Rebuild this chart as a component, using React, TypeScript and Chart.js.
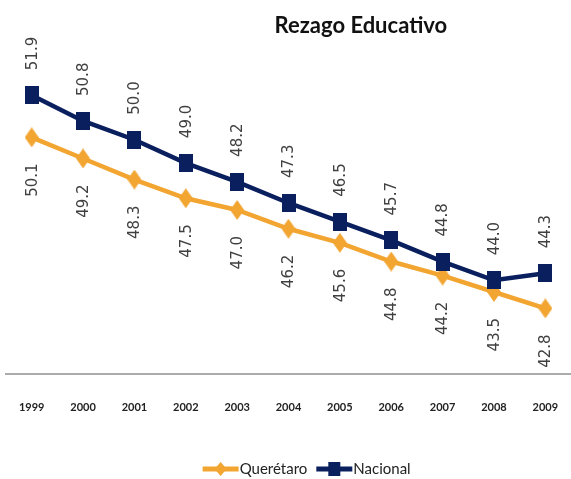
import React, { useEffect, useRef } from "react";
import { Chart, registerables } from "chart.js";

Chart.register(...registerables);

const years = ["1999", "2000", "2001", "2002", "2003", "2004", "2005", "2006", "2007", "2008", "2009"];
const queretaro = [50.1, 49.2, 48.3, 47.5, 47.0, 46.2, 45.6, 44.8, 44.2, 43.5, 42.8];
const nacional = [51.9, 50.8, 50.0, 49.0, 48.2, 47.3, 46.5, 45.7, 44.8, 44.0, 44.3];
const seriesNames = ["Querétaro", "Nacional"];
const chartTitle = "Rezago Educativo";

const NAVY = "#0A1F5E";
const ORANGE = "#F2A531";

function makeMarker(kind: string, w: number, h: number, color: string) {
  const c = document.createElement("canvas");
  c.width = w;
  c.height = h;
  const ctx = c.getContext("2d")!;
  ctx.fillStyle = color;
  if (kind === "square") {
    ctx.fillRect(0, 0, w, h);
  } else {
    ctx.beginPath();
    ctx.moveTo(w / 2, 0);
    ctx.lineTo(w, h / 2);
    ctx.lineTo(w / 2, h);
    ctx.lineTo(0, h / 2);
    ctx.closePath();
    ctx.fill();
  }
  return c;
}

export default function App() {
  const ref = useRef<HTMLCanvasElement | null>(null);

  useEffect(() => {
    if (!ref.current) return;
    const square = makeMarker("square", 14, 18, NAVY);
    const diamond = makeMarker("diamond", 14, 20, ORANGE);

    const overlay = {
      id: "overlay",
      afterDatasetsDraw(chart: any) {
        const ctx = chart.ctx;
        chart.data.datasets.forEach((ds: any, i: number) => {
          const meta = chart.getDatasetMeta(i);
          meta.data.forEach((pt: any, j: number) => {
            const v = ds.data[j] as number;
            ctx.save();
            ctx.translate(pt.x + 1, pt.y);
            ctx.rotate(-Math.PI / 2);
            ctx.font = '15px "DejaVu Sans"';
            ctx.fillStyle = "#404040";
            ctx.textBaseline = "middle";
            if (ds.labelPos === "above") {
              ctx.textAlign = "left";
              ctx.fillText(v.toFixed(1), 25, 0);
            } else {
              ctx.textAlign = "right";
              ctx.fillText(v.toFixed(1), -26, 0);
            }
            ctx.restore();
          });
        });
      },
      afterDraw(chart: any) {
        const ctx = chart.ctx;
        const w = chart.width;
        // title
        ctx.save();
        ctx.font = 'bold 22px Lato';
        ctx.fillStyle = "#111111";
        ctx.textAlign = "center";
        ctx.textBaseline = "alphabetic";
        ctx.fillText(chartTitle, w * 0.632, 33);
        ctx.restore();
        // legend
        ctx.save();
        ctx.font = '15px Lato';
        ctx.textBaseline = "middle";
        ctx.textAlign = "left";
        const lineLen = 36;
        const gapText = 1;
        const gapItem = 9;
        const items = [
          { name: seriesNames[0], color: ORANGE, kind: "diamond" },
          { name: seriesNames[1], color: NAVY, kind: "square" },
        ];
        const widths = items.map((it) => lineLen + gapText + ctx.measureText(it.name).width);
        const total = widths.reduce((a, b) => a + b, 0) + gapItem;
        let x = w * 0.537 - total / 2;
        const y = 469;
        items.forEach((it, k) => {
          ctx.strokeStyle = it.color;
          ctx.lineWidth = 5;
          ctx.beginPath();
          ctx.moveTo(x, y);
          ctx.lineTo(x + lineLen, y);
          ctx.stroke();
          ctx.fillStyle = it.color;
          const cx = x + lineLen / 2;
          if (it.kind === "square") {
            ctx.fillRect(cx - 6, y - 7, 12, 14);
          } else {
            ctx.beginPath();
            ctx.moveTo(cx, y - 7);
            ctx.lineTo(cx + 6, y);
            ctx.lineTo(cx, y + 7);
            ctx.lineTo(cx - 6, y);
            ctx.closePath();
            ctx.fill();
          }
          ctx.fillStyle = "#222222";
          ctx.fillText(it.name, x + lineLen + gapText, y);
          x += widths[k] + gapItem;
        });
        ctx.restore();
      },
    };

    const chart = new Chart(ref.current, {
      type: "line",
      data: {
        labels: years,
        datasets: [
          {
            label: seriesNames[1],
            data: nacional,
            borderColor: NAVY,
            backgroundColor: NAVY,
            borderWidth: 4.5,
            pointStyle: square as any,
            pointRadius: 9,
            tension: 0,
            labelPos: "above",
          } as any,
          {
            label: seriesNames[0],
            data: queretaro,
            borderColor: ORANGE,
            backgroundColor: ORANGE,
            borderWidth: 4.5,
            pointStyle: diamond as any,
            pointRadius: 9,
            tension: 0,
            labelPos: "below",
          } as any,
        ],
      },
      options: {
        responsive: false,
        maintainAspectRatio: false,
        animation: false,
        layout: { autoPadding: false, padding: { left: 6, right: 0, top: 46, bottom: 65 } },
        plugins: {
          legend: { display: false },
          title: { display: false },
          tooltip: { enabled: false },
        },
        scales: {
          x: {
            offset: true,
            grid: { display: false, drawTicks: false },
            border: { display: true, color: "#ABABAB", width: 2 },
            ticks: {
              maxRotation: 0,
              autoSkip: false,
              padding: 27,
              color: "#222222",
              font: { family: "'Liberation Sans Narrow', Lato", size: 11, weight: "bold" },
            },
            afterFit(scale: any) {
              scale.height = 40;
              scale.paddingLeft = 0;
              scale.paddingRight = 0;
            },
          },
          y: {
            display: false,
            min: 40,
            max: 54,
          },
        },
      },
      plugins: [overlay],
    } as any);
    return () => chart.destroy();
  }, []);

  return (
    <div style={{ position: "absolute", left: 0, top: 0, width: 571, height: 479, background: "#ffffff" }}>
      <canvas ref={ref} width={571} height={479} />
    </div>
  );
}
